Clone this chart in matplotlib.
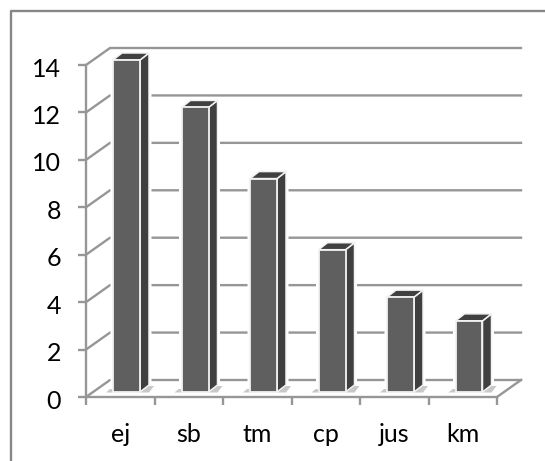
import matplotlib
matplotlib.use("Agg")
import matplotlib.pyplot as plt
from matplotlib.patches import Polygon
from matplotlib.lines import Line2D
from matplotlib.transforms import ScaledTranslation

categories = ["ej", "sb", "tm", "cp", "jus", "km"]
values = [14, 12, 9, 6, 4, 3]
y_ticks = [0, 2, 4, 6, 8, 10, 12, 14]

W, H = 545, 461
GRID = "#969696"

plt.rcParams["font.family"] = ["Lato", "DejaVu Sans"]

fig = plt.figure(figsize=(W / 100, H / 100), dpi=100)

# front plane of the chart, in pixels of the picture
left, right, top, bottom = 86, 497, 65, 397
ax = fig.add_axes([left / W, 1 - bottom / H, (right - left) / W, (bottom - top) / H])
ax.set_xlim(0, len(categories))
ax.set_ylim(0, 14)
ax.patch.set_visible(False)

# pixels to data units
ux = (right - left) / len(categories)
uy = (bottom - top) / 14


def off(px, py):
    return px / ux, py / uy


wall_x, wall_y = off(24, 17)
depth_x, depth_y = off(9, 7)
bar_w = 27 / ux
bar_x0, bar_y0 = off(27, 5)

# walls
for v in y_ticks:
    ax.plot([0, wall_x, len(categories) + wall_x], [v, v + wall_y, v + wall_y],
            color=GRID, lw=1.7, clip_on=False, zorder=1, solid_joinstyle="miter")
ax.plot([len(categories), len(categories) + wall_x], [0, wall_y], color=GRID, lw=1.7,
        clip_on=False, zorder=1)

# bars
for i, v in enumerate(values):
    x0 = i + bar_x0
    x1 = x0 + bar_w
    y0 = bar_y0
    y1 = bar_y0 + v
    # white glow around the column
    outline = [(x0, y0), (x1, y0), (x1 + depth_x, y0 + depth_y), (x1 + depth_x, y1 + depth_y),
               (x0 + depth_x, y1 + depth_y), (x0, y1)]
    ax.add_patch(Polygon(outline, closed=True, fc="white", ec="white", lw=3.6,
                         clip_on=False, zorder=2))
    # shadow on the floor
    ax.add_patch(Polygon([(x0 - 7 / ux, y0 - 0.5 / uy), (x1 + 9 / ux, y0 - 0.5 / uy),
                          (x1 + depth_x + 5 / ux, y0 + depth_y - 1 / uy), (x1, y0 + depth_y - 1 / uy),
                          (x0, y0 + 3 / uy), (x0 - 3 / ux, y0 + 3 / uy)],
                         closed=True, fc="#c8c8c8", ec="none", clip_on=False, zorder=2.5))
    ax.add_patch(Polygon([(x1, y0), (x1 + depth_x, y0 + depth_y), (x1 + depth_x, y1 + depth_y), (x1, y1)],
                         closed=True, fc="#3f3f3f", ec="#f2f2f2", lw=1.1, clip_on=False, zorder=3))
    ax.add_patch(Polygon([(x0, y1), (x1, y1), (x1 + depth_x, y1 + depth_y), (x0 + depth_x, y1 + depth_y)],
                         closed=True, fc="#404040", ec="#f2f2f2", lw=1.1, clip_on=False, zorder=3))
    ax.add_patch(Polygon([(x0, y0), (x1, y0), (x1, y1), (x0, y1)],
                         closed=True, fc="#5f5f5f", ec="#f2f2f2", lw=1.3, clip_on=False, zorder=4))

# axes
for name in ["top", "right"]:
    ax.spines[name].set_visible(False)
for name in ["left", "bottom"]:
    ax.spines[name].set_color(GRID)
    ax.spines[name].set_linewidth(1.7)

ax.set_yticks(y_ticks)
ax.tick_params(axis="y", length=6, width=1.7, color=GRID, labelsize=18, pad=12, labelcolor="black")
ax.set_xticks(range(len(categories) + 1))
ax.set_xticklabels([])
ax.tick_params(axis="x", length=6, width=1.7, color=GRID)
ax.set_xticks([i + 0.5 for i in range(len(categories))], minor=True)
ax.set_xticklabels(categories, minor=True)
ax.tick_params(axis="x", which="minor", length=0, labelsize=18, pad=19, labelcolor="black")

# the numbers sit a little under their ticks
for label in ax.get_yticklabels():
    label.set_transform(label.get_transform() + ScaledTranslation(0, -2 / 100, fig.dpi_scale_trans))

# outer frame: only left and top edges show
fig.add_artist(Line2D([11 / W, 11 / W, 1], [0, 1 - 11 / H, 1 - 11 / H], color="#868686", lw=1.7))

fig.savefig("out.png", dpi=100)
